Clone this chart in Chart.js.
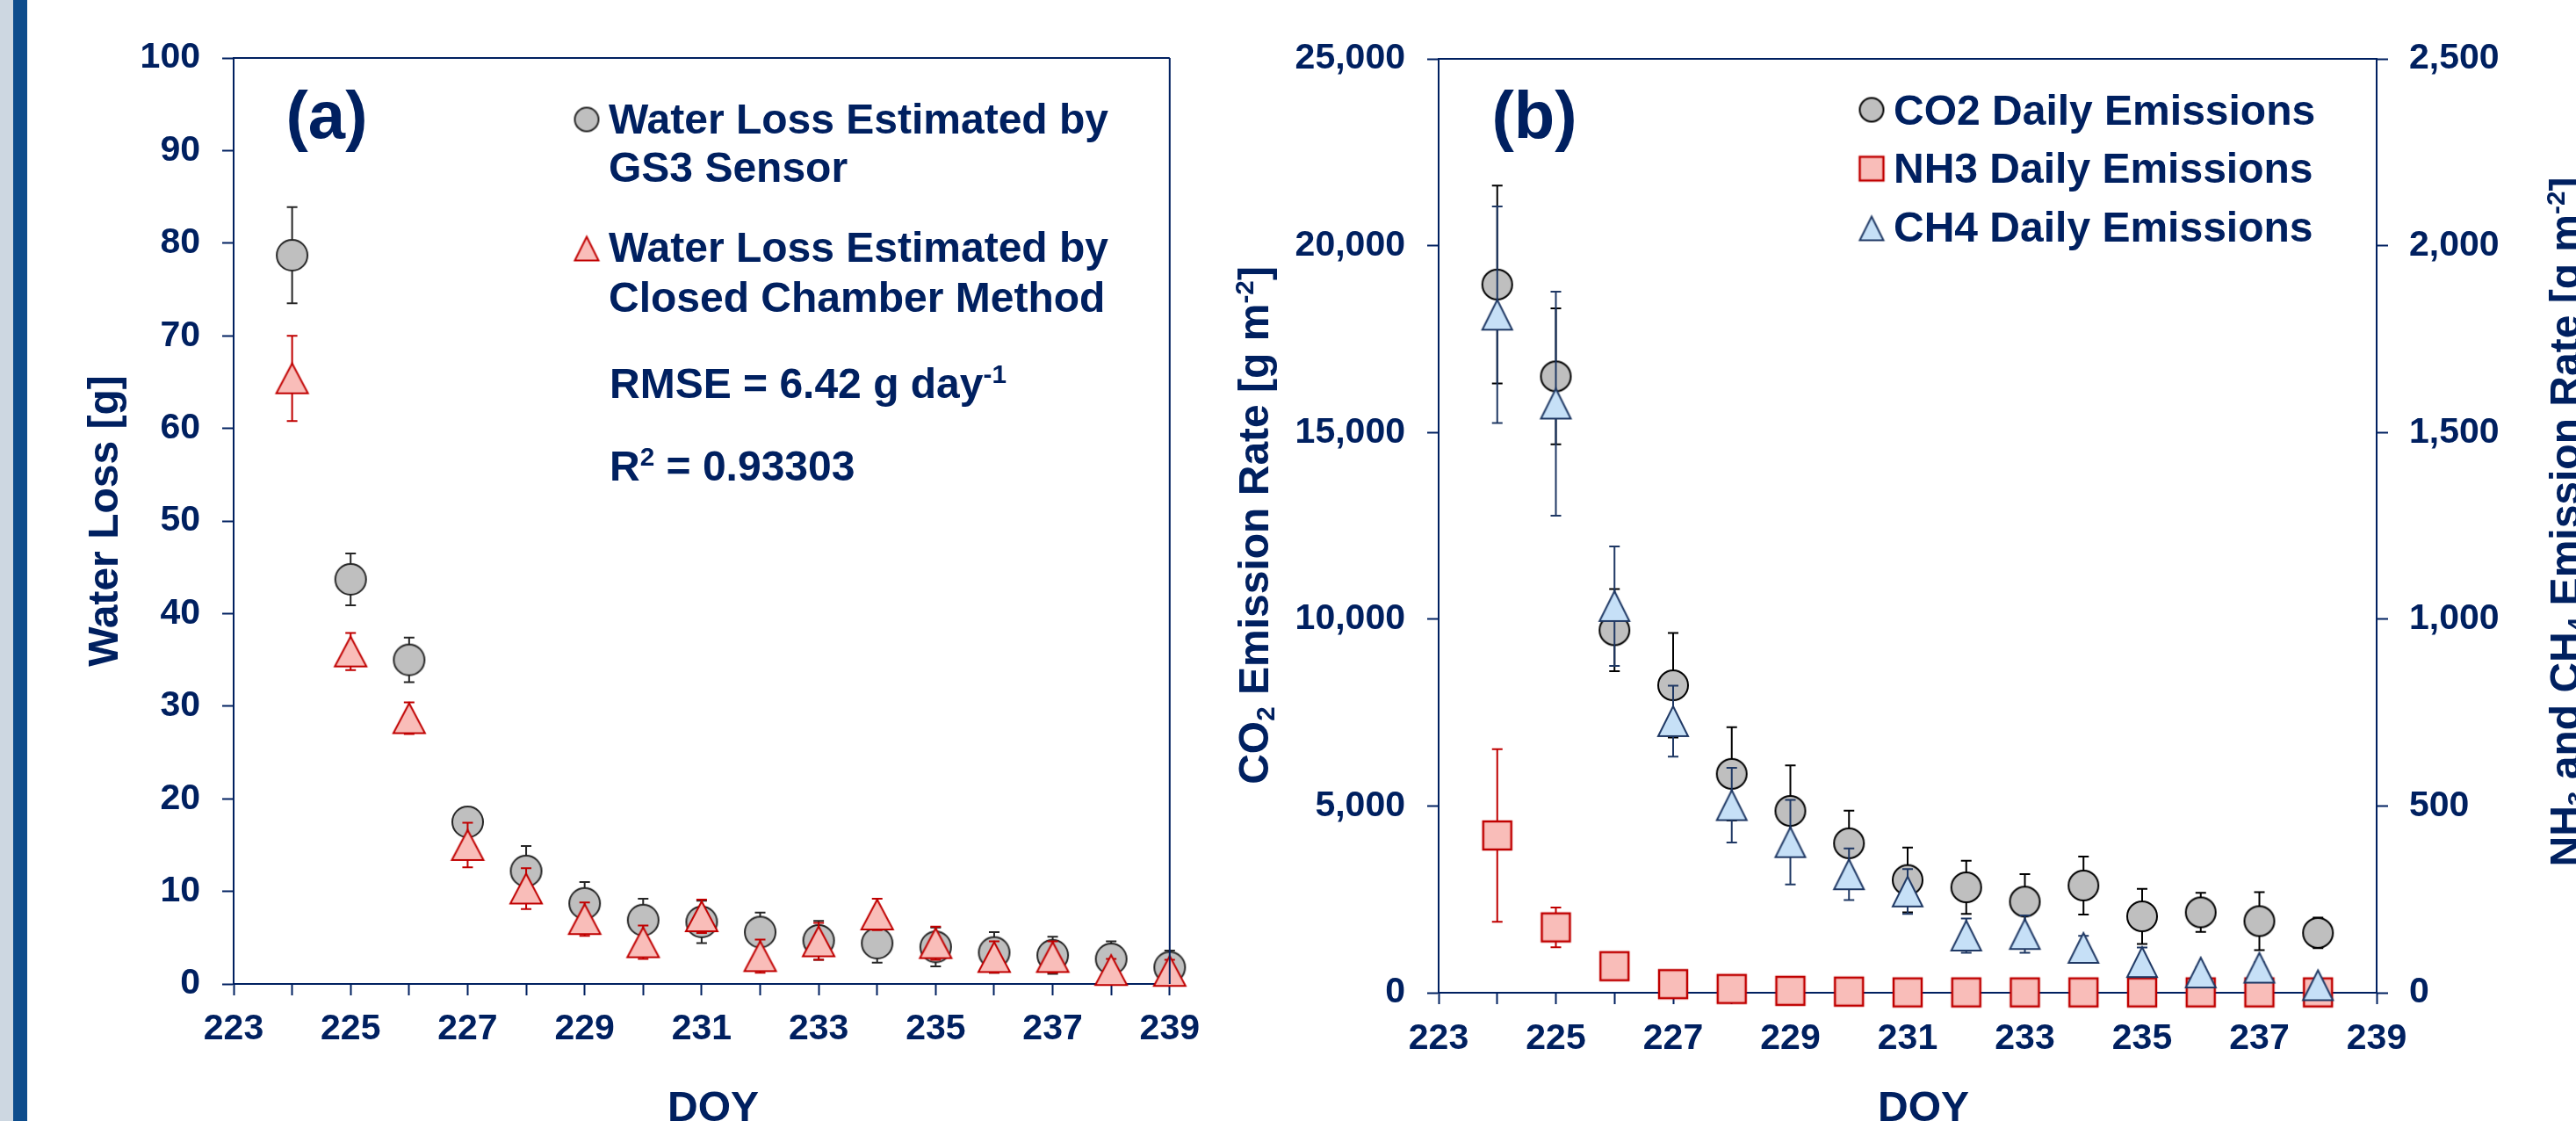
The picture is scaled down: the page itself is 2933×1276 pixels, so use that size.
<!DOCTYPE html>
<html>
<head>
<meta charset="utf-8">
<script src="https://cdn.jsdelivr.net/npm/chart.js@4.4.1/dist/chart.umd.min.js"></script>
<style>
  html, body { margin: 0; padding: 0; background: #ffffff; }
  body { width: 2933px; height: 1276px; position: relative; overflow: hidden; }
  #edge { position: absolute; left: 0; top: 0; width: 15px; height: 1276px; background: #cdd7e1; }
  #bar  { position: absolute; left: 15px; top: 0; width: 16px; height: 1276px; background: #0d4c8c; }
  #wrapA { position: absolute; left: 0; top: 0; width: 1380px; height: 1276px; }
  #wrapB { position: absolute; left: 1380px; top: 0; width: 1553px; height: 1276px; }
  canvas { display: block; }
</style>
</head>
<body>
<div id="edge"></div>
<div id="bar"></div>
<div id="wrapA"><canvas id="chartA" width="1380" height="1276"></canvas></div>
<div id="wrapB"><canvas id="chartB" width="1553" height="1276"></canvas></div>

<script>
// ---------- Panel (a): water loss ----------
const doyA          = [224, 225, 226, 227, 228, 229, 230, 231, 232, 233, 234, 235, 236, 237, 238, 239];
const gs3Loss       = [78.7, 43.7, 35.0, 17.5, 12.2, 8.7, 6.9, 6.7, 5.6, 4.7, 4.4, 4.0, 3.4, 3.1, 2.7, 1.8];
const gs3Err        = [5.2, 2.8, 2.4, 1.4, 2.7, 2.3, 2.3, 2.3, 2.1, 2.1, 2.1, 2.1, 2.2, 2.0, 1.9, 1.8];
const chamberLoss   = [65.4, 35.9, 28.7, 15.0, 10.3, 7.0, 4.5, 7.3, 3.0, 4.6, 7.5, 4.4, 2.9, 2.9, 1.5, 1.4];
const chamberErr    = [4.6, 2.0, 1.7, 2.4, 2.2, 1.8, 1.8, 1.8, 1.8, 2.0, 1.7, 1.8, 1.7, 1.7, 1.2, 1.2];
const legendA       = [["Water Loss Estimated by", "GS3 Sensor"],
                       ["Water Loss Estimated by", "Closed Chamber Method"]];
const rmseText      = "RMSE = 6.42 g day";
const r2Text        = " = 0.93303";

// ---------- Panel (b): gas emissions ----------
const doyB     = [224, 225, 226, 227, 228, 229, 230, 231, 232, 233, 234, 235, 236, 237, 238];
const co2Rate  = [18960, 16500, 9705, 8230, 5860, 4867, 4002, 3019, 2822, 2439, 2871, 2045, 2153, 1917, 1603];
const co2Err   = [2650, 1820, 1100, 1400, 1250, 1220, 875, 865, 710, 737, 777, 738, 522, 777, 410];
const nh3Rate  = [421, 175, 71, 23, 10, 5, 3, 1, 1, 1, 1, 1, 1, 1, 1];
const nh3Err   = [231, 53, 5, 3, 2, 1, 1, 0, 0, 0, 0, 0, 0, 0, 0];
const ch4Rate  = [1815, 1577, 1035, 727, 502, 403, 317, 271, 153, 157, 120, 82, 54, 67, 20];
const ch4Err   = [290, 300, 160, 95, 100, 113, 69, 60, 46, 50, 32, 39, 15, 15, 5];
const legendB  = ["CO2 Daily Emissions", "NH3 Daily Emissions", "CH4 Daily Emissions"];

// Axis ranges / tick steps
const xRange   = [223, 239];
const yRangeA  = [0, 100, 10];
const yRangeB  = [0, 25000, 5000];
const y1RangeB = [0, 2500, 500];

const FONT = '"Liberation Sans", Arial, Helvetica, sans-serif';
const NAVY = '#002060';

function setFont(ctx, size) { ctx.font = 'bold ' + size + 'px ' + FONT; }

// Draw a run of text pieces; each piece is [text, 'n' | 'sub' | 'sup']
function drawRich(ctx, parts, x, y, size, align, rot) {
  ctx.save();
  ctx.translate(x, y);
  if (rot) ctx.rotate(rot);
  ctx.fillStyle = NAVY;
  ctx.textBaseline = 'alphabetic';
  ctx.textAlign = 'left';
  const small = size * 0.62;
  let total = 0;
  const widths = parts.map(function (p) {
    setFont(ctx, p[1] === 'n' ? size : small);
    const w = ctx.measureText(p[0]).width;
    total += w;
    return w;
  });
  let cx = align === 'center' ? -total / 2 : (align === 'right' ? -total : 0);
  parts.forEach(function (p, i) {
    setFont(ctx, p[1] === 'n' ? size : small);
    const dy = p[1] === 'sup' ? -size * 0.36 : (p[1] === 'sub' ? size * 0.14 : 0);
    ctx.fillText(p[0], cx, dy);
    cx += widths[i];
  });
  ctx.restore();
}

// Marker sprites used as point styles (centred on the data value)
function marker(shape, w, h, fill, stroke, lw) {
  const pad = Math.ceil(lw) + 1;
  const c = document.createElement('canvas');
  c.width = Math.round(w + 2 * pad);
  c.height = Math.round(h + 2 * pad);
  const g = c.getContext('2d');
  g.fillStyle = fill; g.strokeStyle = stroke; g.lineWidth = lw; g.lineJoin = 'miter';
  g.beginPath();
  const cx = c.width / 2, cy = c.height / 2;
  if (shape === 'circle') {
    g.ellipse(cx, cy, w / 2, h / 2, 0, 0, Math.PI * 2);
  } else if (shape === 'triangle') {
    g.moveTo(cx, cy - h / 2); g.lineTo(cx + w / 2, cy + h / 2); g.lineTo(cx - w / 2, cy + h / 2); g.closePath();
  } else {
    g.rect(cx - w / 2, cy - h / 2, w, h);
  }
  g.fill(); g.stroke();
  return c;
}

const GREY_FILL = '#bfbfbf', RED_FILL = '#f9bdb9', BLUE_FILL = '#c6e0f7';
const mkGreyA  = marker('circle', 35, 35, GREY_FILL, '#262626', 2);
const mkRedTri = marker('triangle', 36, 34, RED_FILL, '#c00000', 2);
const mkGreyB  = marker('circle', 34, 34, GREY_FILL, '#000000', 2);
const mkSquare = marker('square', 32, 32, RED_FILL, '#c00000', 2.5);
const mkBlueTr = marker('triangle', 34, 34, BLUE_FILL, '#1f3864', 2);
// legend-sized sprites
const lgGreyA  = marker('circle', 27, 27, GREY_FILL, '#262626', 2);
const lgRedTri = marker('triangle', 27, 27, RED_FILL, '#c00000', 2);
const lgGreyB  = marker('circle', 27, 27, GREY_FILL, '#000000', 2);
const lgSquare = marker('square', 27, 27, RED_FILL, '#c00000', 2.5);
const lgBlueTr = marker('triangle', 27, 27, BLUE_FILL, '#1f3864', 2);

// Vertical ± error bars, drawn just before each dataset's markers
const errorBarPlugin = {
  id: 'errorBars',
  beforeDatasetDraw(chart, args) {
    const ds = chart.data.datasets[args.index];
    if (!ds.errors) return;
    const meta = args.meta;
    const xs = chart.scales[meta.xAxisID], ys = chart.scales[meta.yAxisID];
    const ctx = chart.ctx;
    ctx.save();
    ctx.strokeStyle = ds.errorColor;
    ctx.lineWidth = 2;
    ds.data.forEach(function (p, i) {
      const e = ds.errors[i];
      if (!e) return;
      const x = xs.getPixelForValue(p.x);
      const yt = ys.getPixelForValue(p.y + e), yb = ys.getPixelForValue(p.y - e);
      ctx.beginPath();
      ctx.moveTo(x, yt); ctx.lineTo(x, yb);
      ctx.moveTo(x - 6, yt); ctx.lineTo(x + 6, yt);
      ctx.moveTo(x - 6, yb); ctx.lineTo(x + 6, yb);
      ctx.stroke();
    });
    ctx.restore();
  }
};

// Top (and optionally right) frame lines of the plot box
function framePlugin(withRight) {
  return {
    id: 'frame',
    afterDraw(chart) {
      const a = chart.chartArea, ctx = chart.ctx;
      ctx.save();
      ctx.strokeStyle = NAVY; ctx.lineWidth = 2;
      ctx.beginPath();
      ctx.moveTo(a.left, a.top); ctx.lineTo(a.right, a.top);
      if (withRight) { ctx.moveTo(a.right, a.top); ctx.lineTo(a.right, a.bottom); }
      ctx.stroke();
      ctx.restore();
    }
  };
}

function tickFont() { return { family: FONT, size: 41, weight: 'bold' }; }
function axisGrid() {
  return { display: true, drawOnChartArea: false, drawTicks: true, tickLength: 13, tickWidth: 2, tickColor: NAVY };
}
const oddLabel = function (v) { return (v % 2 === 1) ? String(v) : ''; };
const thousands = function (v) { return Number(v).toLocaleString('en-US'); };

// ---------- Chart (a) ----------
const textA = {
  id: 'textA',
  afterDraw(chart) {
    const ctx = chart.ctx;
    drawRich(ctx, [['(a)', 'n']], 372, 157, 76, 'center');
    ctx.drawImage(lgGreyA, 668 - lgGreyA.width / 2, 136 - lgGreyA.height / 2);
    ctx.drawImage(lgRedTri, 668 - lgRedTri.width / 2, 283 - lgRedTri.height / 2);
    drawRich(ctx, [[legendA[0][0], 'n']], 693, 152, 48, 'left');
    drawRich(ctx, [[legendA[0][1], 'n']], 693, 207, 48, 'left');
    drawRich(ctx, [[legendA[1][0], 'n']], 693, 298, 48, 'left');
    drawRich(ctx, [[legendA[1][1], 'n']], 693, 355, 48, 'left');
    drawRich(ctx, [[rmseText, 'n'], ['-1', 'sup']], 694, 453, 48, 'left');
    drawRich(ctx, [['R', 'n'], ['2', 'sup'], [r2Text, 'n']], 694, 547, 48, 'left');
    drawRich(ctx, [['Water Loss [g]', 'n']], 134, 593, 48, 'center', -Math.PI / 2);
    drawRich(ctx, [['DOY', 'n']], 812, 1276, 48, 'center');
  }
};

new Chart(document.getElementById('chartA'), {
  type: 'scatter',
  data: {
    datasets: [
      { label: legendA[0].join(' '), data: doyA.map((d, i) => ({ x: d, y: gs3Loss[i] })),
        pointStyle: mkGreyA, pointRadius: 18, errors: gs3Err, errorColor: '#262626', order: 2, clip: false },
      { label: legendA[1].join(' '), data: doyA.map((d, i) => ({ x: d, y: chamberLoss[i] })),
        pointStyle: mkRedTri, pointRadius: 18, errors: chamberErr, errorColor: '#c00000', order: 1, clip: false }
    ]
  },
  options: {
    responsive: false, animation: false, devicePixelRatio: 1,
    layout: { padding: { left: 0, right: 47, top: 66, bottom: 0 } },
    plugins: { legend: { display: false }, tooltip: { enabled: false } },
    scales: {
      x: {
        type: 'linear', position: 'bottom', min: xRange[0], max: xRange[1],
        afterFit(s) { s.height = 156; },
        border: { display: true, color: NAVY, width: 2 },
        grid: axisGrid(),
        ticks: { stepSize: 1, autoSkip: false, maxRotation: 0, padding: 14, color: NAVY, font: tickFont(), callback: oddLabel }
      },
      y: {
        type: 'linear', position: 'left', min: yRangeA[0], max: yRangeA[1],
        afterFit(s) { s.width = 266; },
        border: { display: true, color: NAVY, width: 2 },
        grid: axisGrid(),
        ticks: { stepSize: yRangeA[2], padding: 25, color: NAVY, font: tickFont() }
      }
    }
  },
  plugins: [errorBarPlugin, framePlugin(true), textA]
});

// ---------- Chart (b) ----------
const textB = {
  id: 'textB',
  afterDraw(chart) {
    const ctx = chart.ctx;
    drawRich(ctx, [['(b)', 'n']], 367, 157, 76, 'center');
    ctx.drawImage(lgGreyB, 751 - lgGreyB.width / 2, 125 - lgGreyB.height / 2);
    ctx.drawImage(lgSquare, 751 - lgSquare.width / 2, 192 - lgSquare.height / 2);
    ctx.drawImage(lgBlueTr, 751 - lgBlueTr.width / 2, 260 - lgBlueTr.height / 2);
    drawRich(ctx, [[legendB[0], 'n']], 776, 142, 48, 'left');
    drawRich(ctx, [[legendB[1], 'n']], 776, 208, 48, 'left');
    drawRich(ctx, [[legendB[2], 'n']], 776, 275, 48, 'left');
    drawRich(ctx, [['CO', 'n'], ['2', 'sub'], [' Emission Rate [g m', 'n'], ['-2', 'sup'], [']', 'n']],
             64, 598, 48, 'center', -Math.PI / 2);
    drawRich(ctx, [['NH', 'n'], ['3', 'sub'], [' and CH', 'n'], ['4', 'sub'], [' Emission Rate [g m', 'n'], ['-2', 'sup'], [']', 'n']],
             1557, 594, 48, 'center', -Math.PI / 2);
    drawRich(ctx, [['DOY', 'n']], 810, 1276, 48, 'center');
  }
};

new Chart(document.getElementById('chartB'), {
  type: 'scatter',
  data: {
    datasets: [
      { label: legendB[0], data: doyB.map((d, i) => ({ x: d, y: co2Rate[i] })), yAxisID: 'y',
        pointStyle: mkGreyB, pointRadius: 18, errors: co2Err, errorColor: '#000000', order: 3, clip: false },
      { label: legendB[1], data: doyB.map((d, i) => ({ x: d, y: nh3Rate[i] })), yAxisID: 'y1',
        pointStyle: mkSquare, pointRadius: 18, errors: nh3Err, errorColor: '#c00000', order: 2, clip: false },
      { label: legendB[2], data: doyB.map((d, i) => ({ x: d, y: ch4Rate[i] })), yAxisID: 'y1',
        pointStyle: mkBlueTr, pointRadius: 18, errors: ch4Err, errorColor: '#1f3864', order: 1, clip: false }
    ]
  },
  options: {
    responsive: false, animation: false, devicePixelRatio: 1,
    layout: { padding: { left: 0, right: 0, top: 67, bottom: 0 } },
    plugins: { legend: { display: false }, tooltip: { enabled: false } },
    scales: {
      x: {
        type: 'linear', position: 'bottom', min: xRange[0], max: xRange[1],
        afterFit(s) { s.height = 146; },
        border: { display: true, color: NAVY, width: 2 },
        grid: axisGrid(),
        ticks: { stepSize: 1, autoSkip: false, maxRotation: 0, padding: 15, color: NAVY, font: tickFont(), callback: oddLabel }
      },
      y: {
        type: 'linear', position: 'left', min: yRangeB[0], max: yRangeB[1],
        afterFit(s) { s.width = 258; },
        border: { display: true, color: NAVY, width: 2 },
        grid: axisGrid(),
        ticks: { stepSize: yRangeB[2], padding: 25, color: NAVY, font: tickFont(), callback: thousands }
      },
      y1: {
        type: 'linear', position: 'right', min: y1RangeB[0], max: y1RangeB[1],
        afterFit(s) { s.width = 227; },
        border: { display: true, color: NAVY, width: 2 },
        grid: axisGrid(),
        ticks: { stepSize: y1RangeB[2], padding: 24, color: NAVY, font: tickFont(), callback: thousands }
      }
    }
  },
  plugins: [errorBarPlugin, framePlugin(false), textB]
});
</script>
</body>
</html>
